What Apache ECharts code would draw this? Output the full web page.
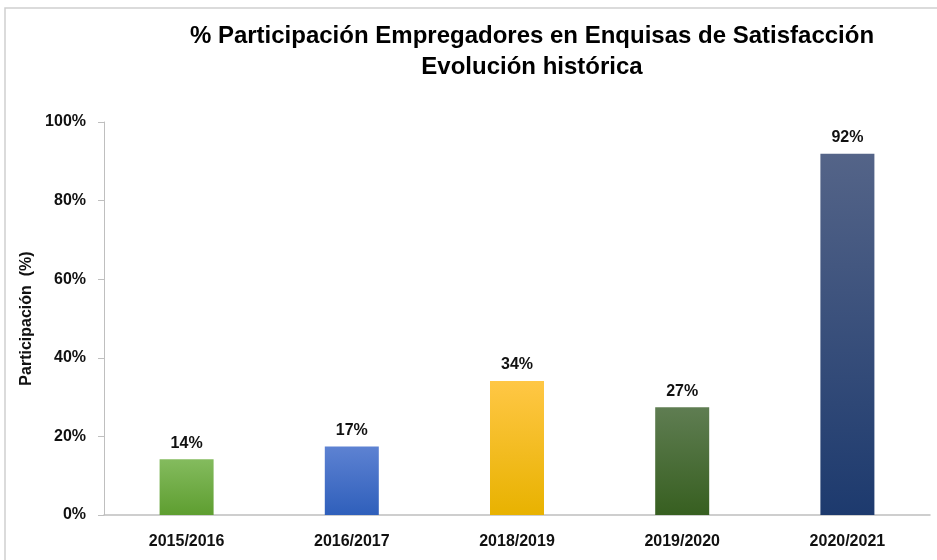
<!DOCTYPE html>
<html>
<head>
<meta charset="utf-8">
<script src="https://cdn.jsdelivr.net/npm/echarts@6/dist/echarts.min.js"></script>
<style>
html, body { margin: 0; padding: 0; background: #fff; }
#ct1 { width: 937px; height: 560px; }
</style>
</head>
<body>
<div id="ct1"></div>
<script>
var categories = ['2015/2016', '2016/2017', '2018/2019', '2019/2020', '2020/2021'];
var values = [14.2, 17.4, 34.1, 27.4, 91.9];
var yTicks = [0, 20, 40, 60, 80, 100];
// top / bottom colour of each bar
var barTop = ['#84bb5e', '#5d82d2', '#ffc745', '#5f7d52', '#546488'];
var barBottom = ['#5e9e30', '#2f5fbb', '#e8b200', '#375f20', '#1d3a6e'];

var font = '"Liberation Sans Narrow", "Arial Narrow", "Liberation Sans", Arial, sans-serif';

var data = [];
for (var i = 0; i < values.length; i++) {
	data.push({
		value : values[i],
		itemStyle : {
			color : new echarts.graphic.LinearGradient(0, 0, 0, 1, [
				{ offset : 0, color : barTop[i] },
				{ offset : 1, color : barBottom[i] }
			])
		}
	});
}

var option1 = {
	animation : false,
	title : {
		text : '% Participación Empregadores en Enquisas de Satisfacción\nEvolución histórica',
		left : 527,
		top : 16,
		textAlign : 'center',
		textStyle : {
			fontFamily : font,
			fontSize : 24,
			fontWeight : 'bold',
			color : '#000',
			lineHeight : 31
		}
	},
	graphic : [{
		type : 'polyline',
		shape : { points : [[5, 560], [5, 8], [937, 8]] },
		style : { stroke : '#cfcfcf', lineWidth : 1.5, fill : null }
	}],
	grid : {
		left : 104,
		right : 7,
		top : 122,
		bottom : 45
	},
	xAxis : [{
		type : 'category',
		data : categories,
		axisLine : { lineStyle : { color : '#bfbfbf', width : 1.5 } },
		axisTick : { show : false },
		axisLabel : {
			margin : 19,
			fontFamily : font,
			fontSize : 16,
			fontWeight : 'bold',
			color : '#111'
		}
	}],
	yAxis : [{
		type : 'value',
		min : 0,
		max : 100,
		interval : 20,
		name : 'Participación  (%)',
		nameLocation : 'middle',
		nameGap : 64,
		nameTextStyle : {
			fontFamily : font,
			fontSize : 16,
			fontWeight : 'bold',
			color : '#111'
		},
		axisLine : { show : true, lineStyle : { color : '#bfbfbf', width : 1 } },
		axisTick : { show : true, length : 6, lineStyle : { color : '#bfbfbf' } },
		splitLine : { show : false },
		axisLabel : {
			margin : 18,
			fontFamily : font,
			fontSize : 16,
			fontWeight : 'bold',
			color : '#111',
			formatter : function(v) {
				return yTicks.indexOf(v) >= 0 ? v + '%' : '';
			}
		}
	}],
	series : [{
		type : 'bar',
		barWidth : 54,
		data : data,
		label : {
			show : true,
			position : 'top',
			distance : 8,
			fontFamily : font,
			fontSize : 16,
			fontWeight : 'bold',
			color : '#111',
			formatter : function(p) {
				return Math.round(p.value) + '%';
			}
		}
	}]
};

var myChart1 = echarts.init(document.getElementById('ct1'));
myChart1.setOption(option1, true);
</script>
</body>
</html>
